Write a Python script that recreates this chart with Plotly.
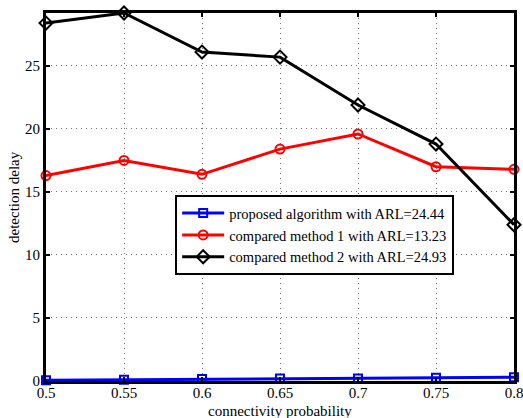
import plotly.graph_objects as go

x = [0.5, 0.55, 0.6, 0.65, 0.7, 0.75, 0.8]
proposed = [0.05, 0.1, 0.15, 0.2, 0.2, 0.25, 0.3]
method1 = [16.3, 17.5, 16.4, 18.4, 19.6, 17.0, 16.8]
method2 = [28.4, 29.2, 26.1, 25.7, 21.9, 18.8, 12.4]
names = ["proposed algorithm with ARL=24.44",
         "compared method 1 with ARL=13.23",
         "compared method 2 with ARL=24.93"]

fig = go.Figure()
fig.add_trace(go.Scatter(x=x, y=proposed, name=names[0], mode="lines+markers",
                         line=dict(color="blue", width=3),
                         marker=dict(symbol="square-open", size=8, color="blue", line=dict(width=2)),
                         cliponaxis=False))
fig.add_trace(go.Scatter(x=x, y=method1, name=names[1], mode="lines+markers",
                         line=dict(color="red", width=3),
                         marker=dict(symbol="circle-open", size=9, color="red", line=dict(width=2)),
                         cliponaxis=False))
fig.add_trace(go.Scatter(x=x, y=method2, name=names[2], mode="lines+markers",
                         line=dict(color="black", width=3),
                         marker=dict(symbol="diamond-open", size=10, color="black", line=dict(width=2)),
                         cliponaxis=False))

axis_common = dict(showline=True, linecolor="black", linewidth=3, mirror="ticks",
                   ticks="inside", ticklen=4, tickwidth=2, tickcolor="black",
                   showgrid=True, gridcolor="#777", griddash="1px,4px", gridwidth=1,
                   zeroline=False, automargin=False, ticklabeloverflow="allow",
                   tickfont=dict(family="Liberation Serif", size=15, color="black"))

fig.update_layout(
    width=523, height=418,
    margin=dict(l=46, r=9, t=13, b=37),
    paper_bgcolor="white", plot_bgcolor="white",
    font=dict(family="Liberation Serif", size=15, color="black"),
    showlegend=True,
    legend=dict(x=0.276, y=0.505, xanchor="left", yanchor="top",
                bgcolor="white", bordercolor="black", borderwidth=2,
                font=dict(family="Liberation Serif", size=14.5, color="black"),
                tracegroupgap=0, itemwidth=42),
    xaxis=dict(range=[0.5, 0.8], tickvals=x, ticktext=["0.5", "0.55", "0.6", "0.65", "0.7", "0.75", "0.8"],
               ticklabelstandoff=-4, **axis_common),
    yaxis=dict(range=[0, 29.2], tickvals=[0, 5, 10, 15, 20, 25],
               **axis_common),
    annotations=[
        dict(text="connectivity probability", xref="paper", yref="paper",
             x=0.5, y=0, yshift=-30, xanchor="center", yanchor="middle",
             showarrow=False, font=dict(family="Liberation Serif", size=15, color="black")),
        dict(text="detection delay", xref="paper", yref="paper",
             x=0, y=0.5, xshift=-32, xanchor="center", yanchor="middle", textangle=-90,
             showarrow=False, font=dict(family="Liberation Serif", size=15, color="black")),
    ],
)

fig.write_html("out.html", config={"displayModeBar": False},
               post_script="document.body.style.margin='0';document.body.style.overflow='hidden';")
